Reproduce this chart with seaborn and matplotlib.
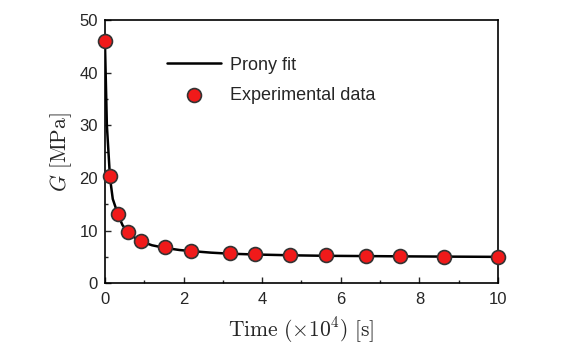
import numpy as np
import pandas as pd
import seaborn as sns
import matplotlib.pyplot as plt
from matplotlib.ticker import MultipleLocator

# Experimental relaxation data (time in 1e4 s, G in MPa)
time_exp = [0.0, 0.13, 0.34, 0.59, 0.93, 1.53, 2.20, 3.18, 3.83, 4.72, 5.62, 6.64, 7.50, 8.63, 10.0]
g_exp = [46.0, 20.3, 13.2, 9.8, 8.0, 6.9, 6.2, 5.8, 5.6, 5.4, 5.3, 5.2, 5.1, 5.0, 4.9]

# Prony fit curve
time_fit = [0.0, 0.05, 0.13, 0.2, 0.34, 0.45, 0.59, 0.75, 0.93, 1.2, 1.53, 1.9, 2.2, 2.7, 3.18, 3.83, 4.72, 5.62, 6.64, 7.50, 8.63, 10.0]
g_fit = [46.0, 30.0, 20.0, 16.0, 12.9, 11.0, 9.7, 8.7, 7.9, 7.2, 6.7, 6.3, 6.1, 5.8, 5.6, 5.45, 5.3, 5.2, 5.15, 5.1, 5.05, 5.0]

df_exp = pd.DataFrame({'t': time_exp, 'G': g_exp})
df_fit = pd.DataFrame({'t': time_fit, 'G': g_fit})

sns.set_theme(style='ticks')
plt.rcParams['font.family'] = ['Liberation Sans', 'DejaVu Sans']
plt.rcParams['mathtext.fontset'] = 'cm'

fig = plt.figure(figsize=(5.64, 3.58), dpi=100)
ax = fig.add_axes([0.186, 0.209, 0.697, 0.735])

sns.lineplot(data=df_fit, x='t', y='G', color='black', lw=1.8, ax=ax,
             label='Prony fit', zorder=2)
sns.scatterplot(data=df_exp, x='t', y='G', s=100, color='#f01a1a',
                edgecolor='#333333', linewidth=1.2, ax=ax,
                label='Experimental data', zorder=3, clip_on=False)

ax.set_xlim(0, 10)
ax.set_ylim(0, 50)
ax.xaxis.set_major_locator(MultipleLocator(2))
ax.xaxis.set_minor_locator(MultipleLocator(1))
ax.yaxis.set_major_locator(MultipleLocator(10))
ax.yaxis.set_minor_locator(MultipleLocator(5))
ax.tick_params(which='both', direction='in', labelsize=12, width=1)
ax.tick_params(axis='x', pad=6)
ax.tick_params(axis='y', pad=5)
ax.tick_params(which='major', length=4)
ax.tick_params(which='minor', length=2.5)
for s in ax.spines.values():
    s.set_linewidth(1.2)
    s.set_color('black')

ax.set_xlabel(r'$\mathrm{Time}\ (\times 10^4)\ [\mathrm{s}]$', fontsize=15.5, labelpad=6)
ax.set_ylabel(r'$G\ [\mathrm{MPa}]$', fontsize=15.5, labelpad=4)

ax.legend(loc='upper left', bbox_to_anchor=(0.117, 0.923), frameon=False,
          fontsize=13, handlelength=3.0, labelspacing=0.75, handletextpad=0.5)

fig.savefig('out.png', dpi=100)
